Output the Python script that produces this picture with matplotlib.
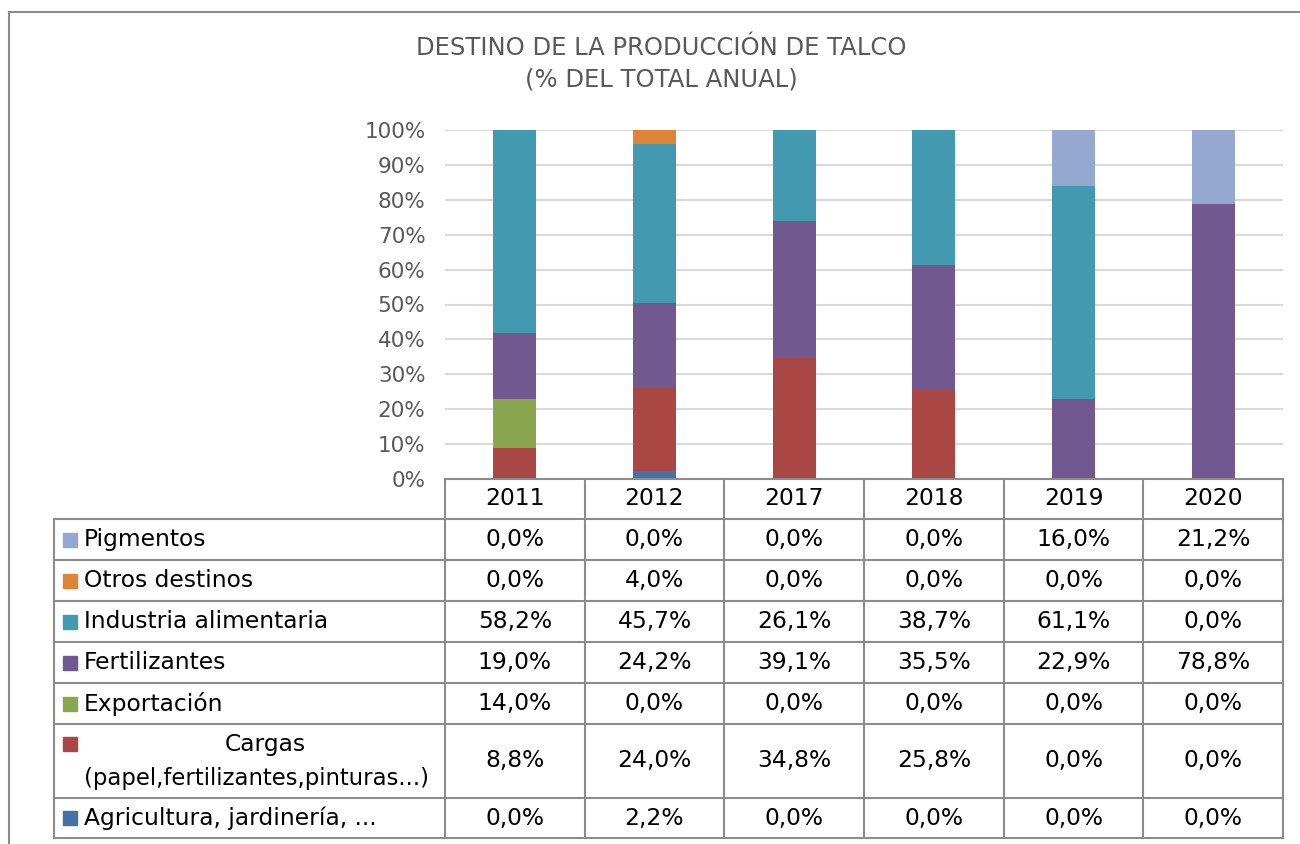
import numpy as np
import matplotlib
matplotlib.use('Agg')
import matplotlib.pyplot as plt
from matplotlib.lines import Line2D
from matplotlib.patches import Rectangle

# Data (% of annual total).
years = ['2011', '2012', '2017', '2018', '2019', '2020']
agricultura = [0.0, 2.2, 0.0, 0.0, 0.0, 0.0]
cargas = [8.8, 24.0, 34.8, 25.8, 0.0, 0.0]
exportacion = [14.0, 0.0, 0.0, 0.0, 0.0, 0.0]
fertilizantes = [19.0, 24.2, 39.1, 35.5, 22.9, 78.8]
industria = [58.2, 45.7, 26.1, 38.7, 61.1, 0.0]
otros = [0.0, 4.0, 0.0, 0.0, 0.0, 0.0]
pigmentos = [0.0, 0.0, 0.0, 0.0, 16.0, 21.2]

# Bottom-to-top stacking order.
series = [
  ('Agricultura, jardinería, ...', agricultura, '#4471A6'),
  ('Cargas\n(papel,fertilizantes,pinturas...)', cargas, '#A94745'),
  ('Exportación', exportacion, '#8AA64F'),
  ('Fertilizantes', fertilizantes, '#71588F'),
  ('Industria alimentaria', industria, '#4299B0'),
  ('Otros destinos', otros, '#DE8437'),
  ('Pigmentos', pigmentos, '#95A9D0'),
]

W, H = 1300, 844
fig = plt.figure(figsize=(W / 100, H / 100), dpi=100)
plt.rcParams['font.family'] = ['DejaVu Sans']

def fx(px):
  return px / W

def fy(py):
  return 1 - py / H

# Outer chart border (left and top visible).
fig.add_artist(Line2D([fx(9), fx(9)], [fy(12), 0], transform=fig.transFigure,
                      color='#8C8C8C', lw=1.5))
fig.add_artist(Line2D([fx(9), 1], [fy(12), fy(12)], transform=fig.transFigure,
                      color='#8C8C8C', lw=1.5))

# Title.
fig.text(fx(661), fy(64), 'DESTINO DE LA PRODUCCIÓN DE TALCO\n(% DEL TOTAL ANUAL)',
         ha='center', va='center', fontsize=17.5, color='#595959', linespacing=1.4)

# Bar axes.
left, right, top, bottom = 445, 1283, 130, 479
ax = fig.add_axes([fx(left), fy(bottom), fx(right - left), fy(top) - fy(bottom)])
x = np.arange(len(years))
totals = np.sum([s[1] for s in series], axis=0)
base = np.zeros(len(years))
for name, vals, color in series:
  pct = np.array(vals) / totals * 100
  ax.bar(x, pct, width=0.31, bottom=base, color=color, zorder=3)
  base += pct
ax.set_xlim(-0.5, len(years) - 0.5)
ax.set_ylim(0, 100)
ax.set_yticks(range(0, 101, 10))
ax.set_yticklabels(['%d%%' % v for v in range(0, 101, 10)])
ax.tick_params(axis='y', length=0, pad=14, labelsize=15.5, labelcolor='#595959')
ax.set_xticks([])
ax.grid(axis='y', color='#D9D9D9', lw=1.5, zorder=0)
for sp in ax.spines.values():
  sp.set_visible(False)

# Data table below, sharing the category scale.
row_h = [40, 41, 41, 41, 41, 41, 74, 40]
tab_top, tab_bottom = 479, 838
tax = fig.add_axes([fx(left), fy(tab_bottom), fx(right - left), fy(tab_top) - fy(tab_bottom)],
                   sharex=ax)
tax.set_ylim(sum(row_h), 0)
tax.axis('off')
col_w = (right - left) / len(years)
label_left = -0.5 - (left - 54) / col_w
edges = np.concatenate([[0], np.cumsum(row_h)])
lc = '#8C8C8C'
lw = 1.5

# Horizontal lines.
tax.plot([-0.5, len(years) - 0.5], [0, 0], color=lc, lw=lw, clip_on=False)
for e in edges[1:]:
  tax.plot([label_left, len(years) - 0.5], [e, e], color=lc, lw=lw, clip_on=False)
# Vertical lines.
tax.plot([label_left, label_left], [edges[1], edges[-1]], color=lc, lw=lw, clip_on=False)
for i in range(len(years) + 1):
  tax.plot([i - 0.5, i - 0.5], [0, edges[-1]], color=lc, lw=lw, clip_on=False)

fs = 16.8
for i, yr in enumerate(years):
  tax.text(i, row_h[0] / 2, yr, ha='center', va='center', fontsize=fs)

key_w = 14 / col_w
for r, (name, vals, color) in enumerate(series[::-1]):
  y0, y1 = edges[r + 1], edges[r + 2]
  yc = (y0 + y1) / 2
  for i, v in enumerate(vals):
    tax.text(i, yc, ('%.1f%%' % v).replace('.', ','), ha='center', va='center', fontsize=fs)
  kx = label_left + 9 / col_w
  if '\n' in name:
    first, second = name.split('\n')
    ky = y0 + 20
    tax.text(label_left + 30 / col_w, y0 + 54, second, ha='left', va='center',
             fontsize=16.4, clip_on=False)
    tax.text(label_left + (265 - 54) / col_w, ky, first, ha='center', va='center',
             fontsize=fs, clip_on=False)
  else:
    ky = yc
    tax.text(label_left + 30 / col_w, yc, name, ha='left', va='center', fontsize=fs,
             clip_on=False)
  tax.add_patch(Rectangle((kx, ky - 7), key_w, 14, color=color, clip_on=False))

fig.savefig('out.png', dpi=100)
